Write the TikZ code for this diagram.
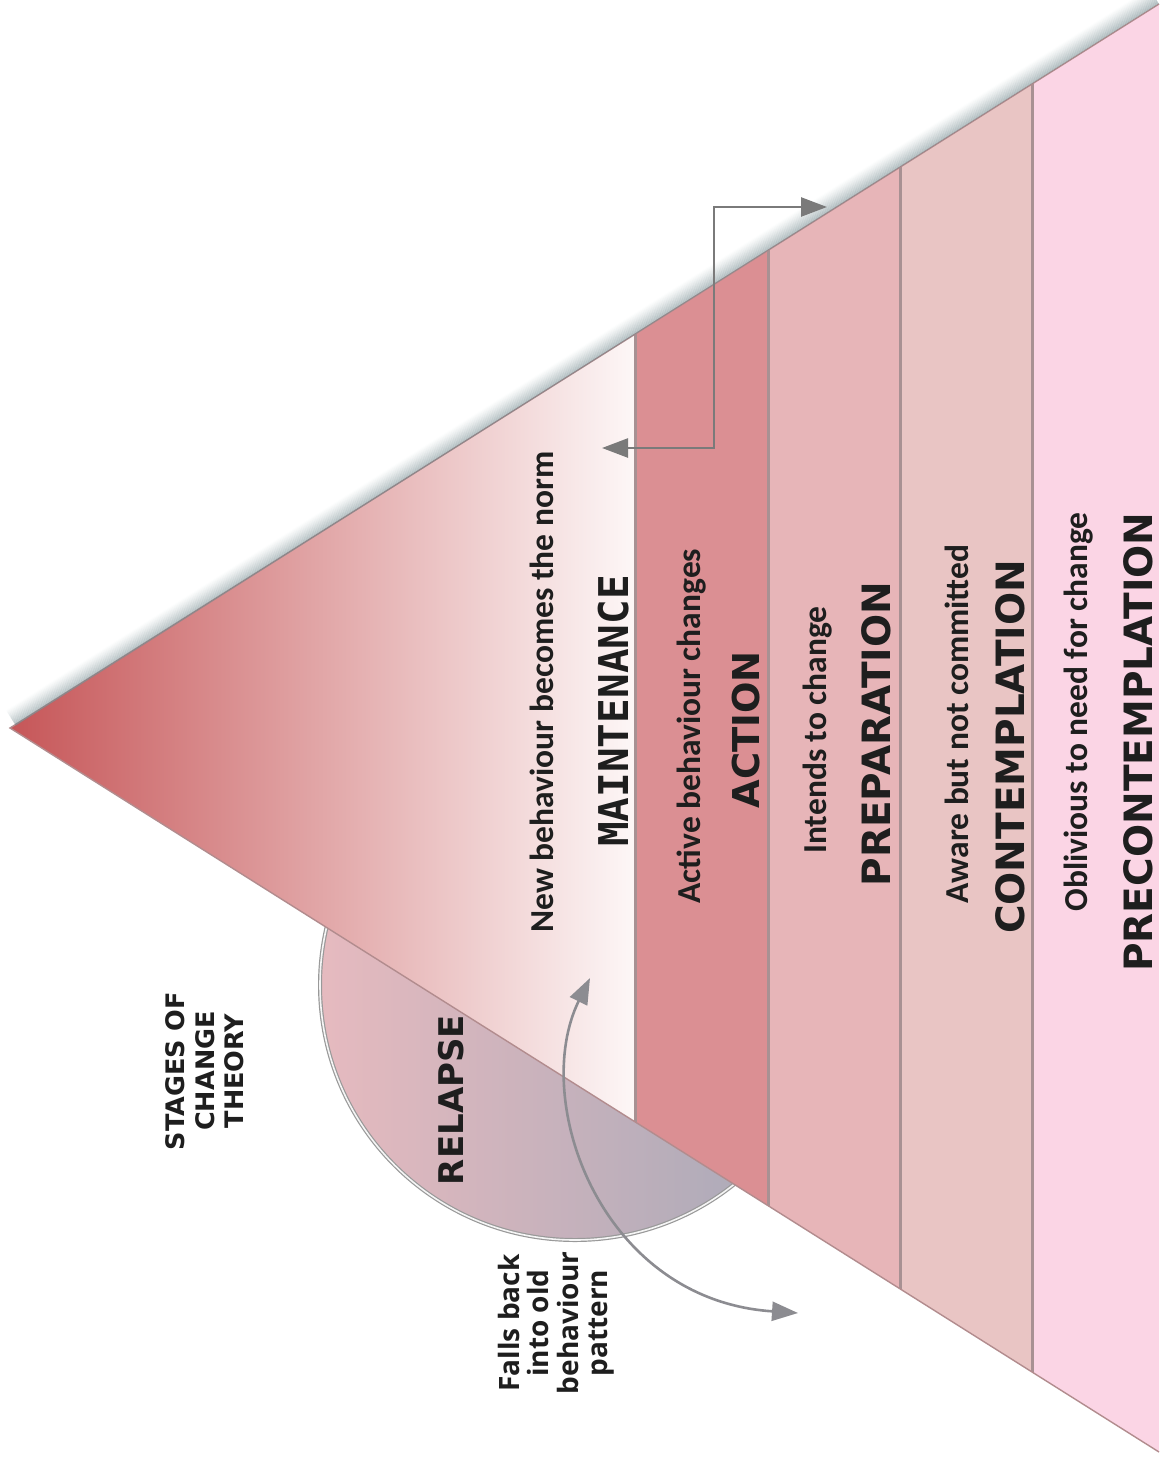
\documentclass[tikz,border=0pt]{standalone}
\usepackage{fontspec}
\setmainfont{Open Sans}
\newfontfamily\stagefont{DejaVu Sans}
\newfontfamily\maintfont{DejaVu Sans Mono}
\newfontfamily\descfont{Carlito}
\newfontfamily\fallsfont{Open Sans}
\usetikzlibrary{arrows.meta}
\definecolor{apexred}{RGB}{198,86,88}
\definecolor{midpink}{RGB}{226,164,167}
\definecolor{fadewhite}{RGB}{253,247,247}
\definecolor{actcol}{RGB}{219,143,147}
\definecolor{prepcol}{RGB}{231,181,184}
\definecolor{contcol}{RGB}{233,197,196}
\definecolor{precol}{RGB}{251,213,229}
\definecolor{divcol}{RGB}{168,145,147}
\definecolor{edgecol}{RGB}{178,140,142}
\definecolor{shadowc}{RGB}{105,130,135}
\definecolor{relleft}{RGB}{230,186,191}
\definecolor{relright}{RGB}{163,168,184}
\definecolor{arrowgray}{RGB}{122,122,122}
\definecolor{curvegray}{RGB}{140,140,145}
\definecolor{txt}{RGB}{30,30,30}
\begin{document}
\begin{tikzpicture}[x=1pt,y=-1pt,
  stagename/.style={rotate=90,text=txt,font=\stagefont\bfseries\fontsize{39}{44}\selectfont,inner sep=0pt},
  desc/.style={rotate=90,text=txt,font=\descfont\bfseries\fontsize{33.5}{36}\selectfont,inner sep=0pt},
  divider/.style={draw=divcol,line width=3pt},
  elbowarrow/.style={draw=arrowgray,line width=2.5pt,{Triangle[length=26pt,width=19pt]}-{Triangle[length=26pt,width=19pt]}},
  curvearrow/.style={draw=curvegray,line width=2.6pt,{Triangle[length=26pt,width=19pt]}-{Triangle[length=26pt,width=19pt]}}]
\useasboundingbox (0,0) rectangle (1159,1461);
\fill[white] (0,0) rectangle (1159,1461);
% relapse circle (behind the triangle)
\coordinate (relc) at (575,985);
\shade[left color=relleft,right color=relright] (relc) circle[radius=255];
\draw[draw=gray!80,line width=1.2pt,double=white!92!gray,double distance=1.6pt] (relc) circle[radius=255];
% triangle
\coordinate (apex) at (10,728);
\coordinate (topR) at (1159,4);
\coordinate (botR) at (1159,1452);
\begin{scope}
\clip (apex) -- (topR) -- (botR) -- cycle;
\fill[precol] (0,0) rectangle (1159,1461);
\shade[left color=apexred,middle color=midpink,right color=fadewhite] (10,0) rectangle (635,1461);
\fill[actcol] (635,0) rectangle (768,1461);
\fill[prepcol] (768,0) rectangle (900,1461);
\fill[contcol] (900,0) rectangle (1032,1461);
\draw[divider] (635,0) -- (635,1461);
\draw[divider] (768,0) -- (768,1461);
\draw[divider] (900,0) -- (900,1461);
\draw[divider] (1032,0) -- (1032,1461);
\end{scope}
\draw[draw=edgecol,line width=1.4pt] (topR) -- (apex) -- (botR);
% shadow above the top edge
\foreach \k in {1,...,18}{
  \pgfmathsetmacro\op{0.42*(1-\k/19)^1.3}
  \begin{scope}[shift={(-0.533*\k,-0.846*\k)}]
    \draw[draw=shadowc,line width=1.3pt,opacity=\op] (16,726) -- (1159,4);
  \end{scope}
}
% texts
\node[desc] (dmaint) at (542,692) {New behaviour becomes the norm};
\node[rotate=90,text=txt,font=\maintfont\bfseries\fontsize{41}{44}\selectfont,inner sep=0pt] (maint) at (614,711) {MAINTENANCE};
\node[desc] (dact) at (692,726) {Active behaviour changes};
\node[stagename,font=\stagefont\bfseries\fontsize{37}{40}\selectfont] (act) at (746,730) {ACTION};
\node[desc] (dprep) at (818,730) {Intends to change};
\node[stagename] (prep) at (876,734) {PREPARATION};
\node[desc] (dcont) at (957,724) {Aware but not committed};
\node[stagename] (cont) at (1010,747) {CONTEMPLATION};
\node[desc] (dpre) at (1079,712) {Oblivious to need for change};
\node[stagename] (pre) at (1138,742) {PRECONTEMPLATION};
\node[rotate=90,text=txt,font=\stagefont\bfseries\fontsize{34}{38}\selectfont,inner sep=0pt] (relapse) at (451,1100) {RELAPSE};
\node[rotate=90,text=txt,align=center,font=\stagefont\bfseries\fontsize{25.5}{29.5}\selectfont,inner sep=0pt] (title) at (205,1071) {STAGES OF\\CHANGE\\THEORY};
\node[rotate=90,text=txt,align=center,font=\fallsfont\bfseries\fontsize{28}{29.5}\selectfont,inner sep=0pt] (falls) at (556,1323) {Falls back\\into old\\behaviour\\pattern};
% elbow arrow
\coordinate (elbowA) at (827,207);
\coordinate (elbowM) at (714,207);
\coordinate (elbowB) at (602,448);
\draw[elbowarrow] (elbowA) -- (elbowM) |- (elbowB);
% curved relapse arrow
\coordinate (relTop) at (590,978);
\coordinate (relBot) at (798,1313);
\draw[curvearrow] (relBot) .. controls (600,1300) and (530,1100) .. (relTop);
\end{tikzpicture}
\end{document}
